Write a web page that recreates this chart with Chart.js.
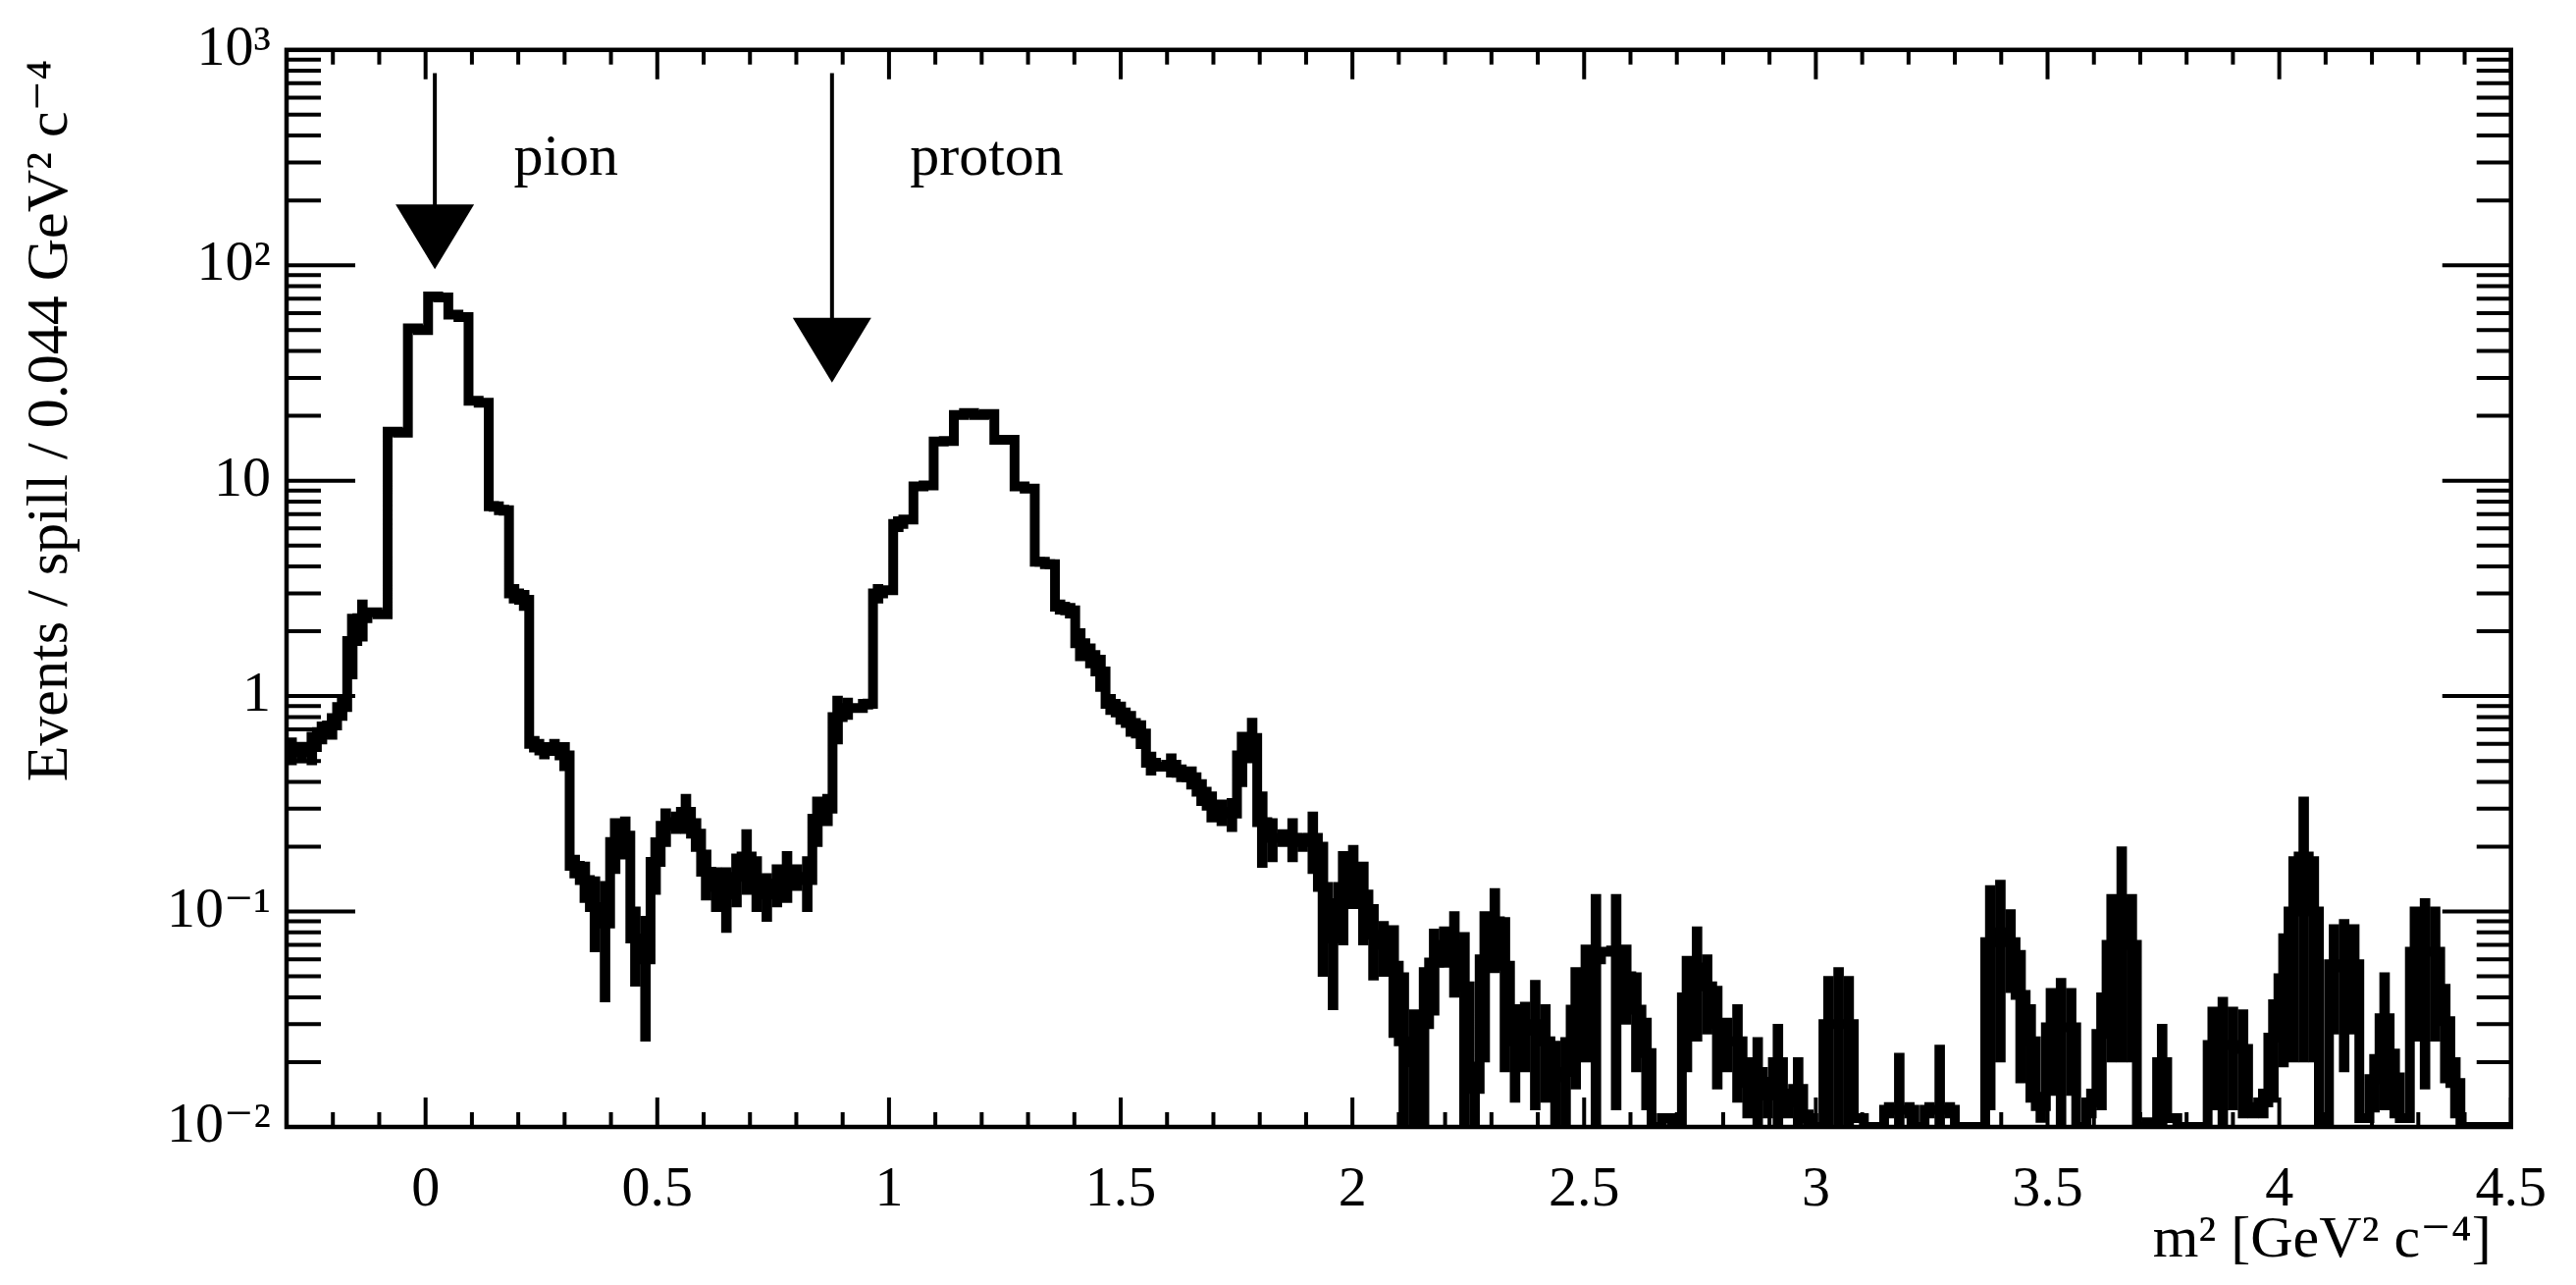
<!DOCTYPE html>
<html><head><meta charset="utf-8">
<script src="https://cdn.jsdelivr.net/npm/chart.js@4.4.1/dist/chart.umd.min.js"></script>
<style>html,body{margin:0;padding:0;background:#fff;}#wrap{width:2625px;height:1309px;}</style>
</head><body><div id="wrap"><canvas id="c" width="2625" height="1309"></canvas></div>
<script>
const binStart = -0.3, binEnd = 4.5, nBins = 220;
const values = [
.56,.55,.58,.68,.73,.89,1.8,2.3,2.45,2.4,
16.9,16.7,51,50,71.6,71,59,57.5,23.5,23,
7.6,7.3,3.0,2.8,.60,.56,.58,.53,.163,.14,
.105,.088,.21,.225,.075,.06,.17,.25,.26,.29,
.23,.153,.13,.12,.145,.18,.14,.12,.135,.15,
.145,.14,.27,.30,.8,.88,.88,.92,3.0,3.1,
6.3,6.6,9.4,9.5,15.2,15.3,20.2,20.6,20.2,20.4,
15.5,15.5,9.4,9.2,4.2,4.1,2.6,2.5,1.76,1.55,
1.3,.92,.84,.75,.67,.49,.47,.48,.44,.42,
.36,.31,.29,.285,.53,.64,.26,.22,.22,.22,
.21,.22,.13,.075,.13,.153,.12,.078,.07,.056,
.025,.02,.03,.058,.07,.07,.045,.015,
.06,.09,.056,.025,.028,.03,.025,.017,.018,.035,
.045,.06,.065,.066,.05,.035,.022,.01,.011,.01,
.04,.055,.045,.03,.025,.025,.016,.018,.014,.02,
.013,.015,.011,.01,
.03,.03,.03,.011,.01,.01,.012,.012,.012,.01,
.012,.012,.012,.01,.01,.01,.072,.08,.072,.041,
.025,.0125,.029,.029,.029,.01,.013,.027,.07,.11,
.07,.01,.0105,
.02,.011,.01,.01,.01,.024,.024,.024,.023,.012,
.013,.026,.049,.1,.18,.1,.01,.057,.055,.057,
.011,.0167,.032,.017,.011,.065,.065,.065,.031,.016,
.01,.01,.01,.01,.01
];
const errors = [
.08,.06,.1,.08,.1,.12,.6,.5,.1,.1,
.5,.5,1,1,1,1,1,1,.7,.7,
.4,.4,.3,.3,.05,.05,.05,.08,.02,.03,
.04,.05,.06,.05,.03,.035,.05,.05,.03,.06,
.04,.04,.03,.04,.04,.06,.04,.03,.03,.04,
.02,.04,.07,.05,.2,.1,.03,.05,.3,.1,
.5,.2,.4,.3,.4,.4,.5,.5,.5,.5,
.4,.4,.3,.3,.2,.2,.2,.2,.3,.2,
.25,.1,.1,.1,.1,.06,.02,.06,.04,.05,
.05,.05,.04,.05,.15,.15,.1,.05,.02,.05,
.02,.07,.08,.04,.06,.05,.05,.03,.02,.03,
.027,.015,.025,.025,.015,.03,.035,.005,
.04,.038,.038,.012,.01,.018,.012,.008,.008,.02,
.025,.06,0,.054,.02,.017,.01,0,0,0,
.022,.03,.018,.015,.007,.012,.005,.008,.003,.01,
.002,.006,.001,0,
.02,.025,.02,0,0,0,.001,.01,.001,0,
.001,.012,.001,0,0,0,.06,.06,.03,.025,
.012,.002,.015,.02,.015,0,.002,.015,.05,.09,
.05,0,0,
.01,0,0,0,0,.012,.016,.012,.012,.001,
.002,.013,.03,.08,.16,.08,0,.03,.037,.03,
0,.005,.02,.006,0,.04,.05,.04,.015,.005,
0,0,0,0,0
];
const xTickValues = [0,0.5,1,1.5,2,2.5,3,3.5,4,4.5];
const yTickValues = [0.01,0.1,1,10,100,1000];
const yTickLabels = ['10\u207B\u00B2','10\u207B\u00B9','1','10','10\u00B2','10\u00B3'];
const arrowLabels = ['pion','proton'];
const arrowX = [0.02, 0.877];
const arrowTopY = [780, 780];
const arrowTipY = [96, 28.5];
const labelX = [0.19, 1.045];

const w = (binEnd-binStart)/nBins;
const linePts = values.map((v,i)=>({x: binStart + i*w, y: v}));
linePts.push({x: binEnd, y: values[values.length-1]});
const errPts = values.map((v,i)=>({x: binStart + (i+0.5)*w, y: [Math.max(v-errors[i],0.0101), Math.min(v+errors[i],1000)]}));

const FONT = '"Liberation Serif","DejaVu Serif",serif';
const frame = {
  id:'frame',
  afterDraw(chart){
    const {ctx, chartArea:a, scales:{x,y}} = chart;
    ctx.save();
    ctx.strokeStyle='#000'; ctx.lineWidth=4.5;
    ctx.strokeRect(a.left,a.top,a.right-a.left,a.bottom-a.top);
    ctx.lineWidth=4;
    ctx.beginPath();
    for(let k=-3;k<=45;k++){
      const v=k/10; if(v<binStart-1e-9||v>binEnd+1e-9) continue;
      const px=x.getPixelForValue(v); const L=(k%5===0)?30:15;
      ctx.moveTo(px,a.bottom); ctx.lineTo(px,a.bottom-L);
      ctx.moveTo(px,a.top); ctx.lineTo(px,a.top+L);
    }
    for(let d=-2; d<=2; d++){
      for(let m=1;m<=9;m++){
        const v=m*Math.pow(10,d); const py=y.getPixelForValue(v); const L=(m===1)?70:35;
        ctx.moveTo(a.left,py); ctx.lineTo(a.left+L,py);
        ctx.moveTo(a.right,py); ctx.lineTo(a.right-L,py);
      }
    }
    ctx.stroke();
    ctx.fillStyle='#000'; ctx.lineWidth=4;
    for(let i=0;i<arrowX.length;i++){
      const px=x.getPixelForValue(arrowX[i]);
      const top=y.getPixelForValue(arrowTopY[i]);
      const tip=y.getPixelForValue(arrowTipY[i]);
      ctx.beginPath(); ctx.moveTo(px,top); ctx.lineTo(px,tip-60); ctx.stroke();
      ctx.beginPath(); ctx.moveTo(px-40,tip-66); ctx.lineTo(px+40,tip-66); ctx.lineTo(px,tip); ctx.closePath(); ctx.fill();
      ctx.font='60px '+FONT; ctx.textAlign='left'; ctx.textBaseline='alphabetic';
      ctx.fillText(arrowLabels[i], x.getPixelForValue(labelX[i]), 178);
    }
    ctx.font='60px '+FONT; ctx.textAlign='right';
    ctx.fillText('m\u00B2 [GeV\u00B2 c\u207B\u2074]', a.right-20, 1280);
    ctx.save(); ctx.translate(68, a.top+10); ctx.rotate(-Math.PI/2);
    ctx.textAlign='right'; ctx.fillText('Events / spill / 0.044 GeV\u00B2 c\u207B\u2074',0,0);
    ctx.restore();
    ctx.restore();
  }
};

new Chart(document.getElementById('c'),{
  data:{datasets:[
    {type:'line', data:linePts, stepped:'before', borderColor:'#000', borderWidth:10, pointRadius:0, fill:false, borderJoinStyle:'miter', borderCapStyle:'butt', order:1},
    {type:'bar', data:errPts, backgroundColor:'#000', borderWidth:0, barThickness:10, grouped:false, order:2}
  ]},
  options:{
    responsive:false, animation:false, devicePixelRatio:1,
    layout:{padding:{top:41,right:32,left:0,bottom:0}},
    plugins:{legend:{display:false},tooltip:{enabled:false}},
    scales:{
      x:{type:'linear', min:binStart, max:binEnd, offset:false,
        grid:{display:false, drawTicks:false}, border:{display:false},
        afterBuildTicks(s){ s.ticks = xTickValues.map(v=>({value:v})); },
        afterFit(s){ s.height = 161; },
        ticks:{font:{family:FONT,size:58}, color:'#000', padding:30, maxRotation:0, autoSkip:false,
          callback:(v)=>String(v)}},
      y:{type:'logarithmic', min:0.01, max:1000,
        grid:{display:false, drawTicks:false}, border:{display:false},
        afterBuildTicks(s){ s.ticks = yTickValues.map(v=>({value:v})); },
        afterFit(s){ s.width = 292; },
        ticks:{font:{family:FONT,size:58}, color:'#000', padding:16, autoSkip:false,
          callback:(v)=>{const i=yTickValues.findIndex(t=>Math.abs(t-v)/t<1e-6); return i>=0?yTickLabels[i]:'';}}}
    }
  },
  plugins:[frame]
});
</script></body></html>
